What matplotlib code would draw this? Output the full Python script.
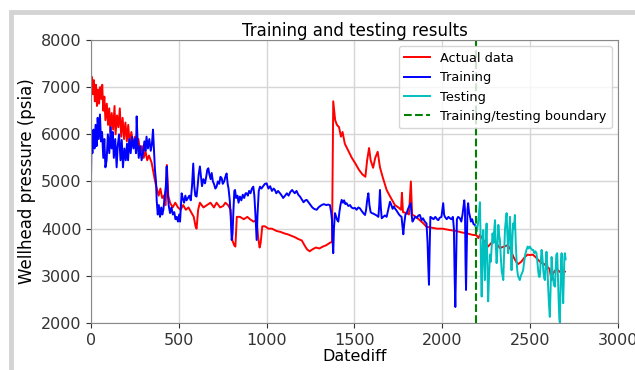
import matplotlib
matplotlib.use("Agg")
import matplotlib.pyplot as plt
from matplotlib.patches import Rectangle

# Actual wellhead pressure
actual_days = [0, 4, 10, 16, 22, 28, 34, 40, 46, 52, 58, 64, 70, 76, 82, 90, 97, 104, 110, 118,
               126, 134, 140, 148, 156, 164, 172, 180, 188, 196, 204, 212, 220, 230, 240, 250, 260,
               270, 280, 290, 300, 310, 320, 330, 345, 355, 365, 375, 385, 395, 405, 415, 425, 432,
               440, 450, 465, 480, 495, 510, 525, 540, 555, 570, 585, 595, 601, 610, 620, 640, 660,
               680, 700, 715, 735, 752, 765, 780, 795, 805, 815, 822, 830, 848, 870, 890, 905, 925,
               943, 952, 960, 966, 975, 990, 1010, 1030, 1057, 1080, 1100, 1120, 1140, 1160, 1180,
               1200, 1215, 1230, 1245, 1260, 1280, 1300, 1320, 1340, 1360, 1372, 1379, 1390, 1400,
               1412, 1423, 1432, 1445, 1465, 1485, 1505, 1525, 1545, 1562, 1572, 1583, 1592, 1606,
               1618, 1632, 1645, 1660, 1683, 1700, 1715, 1730, 1750, 1765, 1770, 1776, 1797, 1810,
               1821, 1828, 1850, 1872, 1890, 1910, 1940, 1970, 2000, 2043, 2080, 2110, 2140, 2170,
               2195, 2205, 2214, 2235, 2260, 2280, 2300, 2315, 2328, 2350, 2373, 2390, 2405, 2420,
               2432, 2450, 2470, 2485, 2498, 2515, 2536, 2550, 2565, 2580, 2595, 2610, 2622, 2630,
               2650, 2670, 2685, 2698]
actual_psia = [6900, 7220, 6850, 7150, 6700, 7050, 6600, 6950, 6650, 7000, 6750, 7050, 6500, 6800,
               6300, 6650, 6200, 6550, 6050, 6450, 6100, 6600, 6000, 6400, 6150, 6550, 5950, 6350,
               5900, 6250, 5850, 6200, 5800, 6050, 5750, 5950, 5650, 5900, 5600, 5750, 5500, 5650,
               5450, 5550, 5400, 5200, 5000, 4850, 4700, 4850, 4650, 4700, 4500, 5350, 4700, 4550,
               4450, 4550, 4450, 4400, 4500, 4400, 4450, 4350, 4250, 4050, 4000, 4400, 4550, 4450,
               4500, 4550, 4450, 4550, 4450, 4480, 4550, 4500, 4400, 3750, 3650, 3620, 4250, 4250,
               4200, 4250, 4200, 4150, 4180, 3800, 3600, 3700, 4050, 4050, 4000, 4000, 3950, 3930,
               3900, 3880, 3850, 3820, 3780, 3750, 3650, 3560, 3520, 3560, 3600, 3580, 3620, 3650,
               3700, 3720, 6700, 6300, 6200, 6150, 5950, 6050, 5800, 5650, 5500, 5380, 5250, 5150,
               5100, 5450, 5710, 5450, 5290, 5500, 5630, 5300, 5100, 4820, 4700, 4600, 4500, 4450,
               4400, 4760, 4350, 4330, 4300, 5000, 4300, 4250, 4180, 4120, 4040, 4020, 4000, 4000,
               3970, 3950, 3920, 3900, 3870, 3860, 3800, 3870, 3750, 3620, 3700, 3720, 3650, 3590,
               3620, 3650, 3550, 3400, 3300, 3250, 3300, 3400, 3450, 3440, 3450, 3380, 3320, 3270,
               3250, 3200, 3150, 2910, 3050, 3150, 3080, 3120, 3090]

# Model fit on the training period
train_days = [0, 3, 8, 14, 20, 26, 32, 38, 44, 51, 57, 63, 70, 76, 82, 89, 96, 104, 112, 118,
              124, 130, 138, 146, 152, 160, 168, 175, 182, 190, 198, 205, 211, 218, 226, 234, 242,
              250, 256, 260, 266, 272, 280, 288, 296, 304, 310, 316, 324, 332, 340, 347, 353, 358,
              364, 370, 374, 380, 386, 393, 400, 406, 412, 420, 426, 431, 436, 442, 450, 458, 466,
              474, 481, 488, 495, 502, 507, 512, 516, 522, 530, 537, 544, 552, 560, 568, 575, 582,
              588, 594, 601, 607, 613, 620, 626, 632, 640, 649, 656, 662, 668, 674, 681, 687, 694,
              700, 708, 715, 722, 730, 737, 744, 750, 758, 765, 772, 778, 783, 790, 796, 801, 806,
              811, 816, 820, 826, 834, 840, 848, 856, 864, 872, 880, 886, 893, 900, 908, 916, 924,
              930, 936, 943, 948, 955, 962, 970, 980, 990, 1000, 1010, 1020, 1030, 1040, 1047,
              1055, 1065, 1076, 1086, 1094, 1105, 1115, 1125, 1135, 1145, 1151, 1160, 1170, 1180,
              1190, 1200, 1210, 1220, 1228, 1240, 1250, 1260, 1270, 1285, 1295, 1305, 1313, 1325,
              1340, 1350, 1360, 1367, 1372, 1376, 1379, 1383, 1389, 1396, 1402, 1408, 1414, 1420,
              1427, 1435, 1441, 1448, 1455, 1465, 1475, 1483, 1493, 1503, 1512, 1522, 1531, 1540,
              1550, 1560, 1566, 1572, 1579, 1585, 1592, 1598, 1607, 1617, 1626, 1636, 1641, 1645,
              1650, 1655, 1664, 1673, 1683, 1692, 1702, 1710, 1717, 1724, 1730, 1740, 1750, 1758,
              1768, 1773, 1778, 1783, 1790, 1797, 1805, 1815, 1820, 1825, 1830, 1835, 1845, 1855,
              1864, 1872, 1882, 1890, 1900, 1910, 1916, 1920, 1924, 1928, 1932, 1940, 1950, 1960,
              1970, 1977, 1985, 1995, 2000, 2005, 2010, 2015, 2025, 2035, 2043, 2052, 2060, 2066,
              2070, 2074, 2078, 2083, 2090, 2100, 2108, 2115, 2120, 2125, 2129, 2132, 2135, 2139,
              2143, 2147, 2152, 2158, 2163, 2170, 2177, 2185, 2190]
train_psia = [5050, 5900, 5600, 6100, 5700, 6200, 5750, 6350, 5900, 6420, 5850, 6050, 5500, 5900,
              5300, 5450, 6000, 5600, 6150, 5700, 6050, 5500, 5900, 5300, 5750, 6000, 5450, 5880,
              5300, 5700, 5450, 5800, 5450, 5900, 5600, 5950, 5700, 5900, 5600, 6380, 5800, 5500,
              5750, 5450, 5600, 5850, 5650, 5950, 5700, 5900, 5650, 5800, 6100, 5700, 5250, 5000,
              4600, 4300, 4500, 4250, 4450, 4300, 4400, 4700, 4900, 5320, 4800, 4500, 4330, 4450,
              4300, 4350, 4200, 4250, 4150, 4300, 4150, 4500, 4750, 4650, 4550, 4700, 4600, 4650,
              4700, 4600, 4900, 5380, 4900, 4700, 4680, 4900, 5150, 5320, 5100, 4900, 5050, 4960,
              5100, 5250, 5280, 5150, 5050, 5180, 5000, 4950, 4850, 4890, 5000, 4950, 5100, 5070,
              4950, 5000, 5100, 5170, 4950, 4850, 4600, 4200, 3760, 3900, 4400, 4800, 4820, 4650,
              4700, 4550, 4680, 4600, 4720, 4650, 4750, 4750, 4700, 4800, 4750, 4850, 4890, 4700,
              4300, 3760, 4300, 4800, 4890, 4850, 4900, 4950, 4960, 4850, 4900, 4800, 4850, 4820,
              4750, 4800, 4750, 4700, 4650, 4700, 4750, 4700, 4780, 4820, 4790, 4750, 4800, 4720,
              4680, 4620, 4560, 4600, 4610, 4550, 4500, 4450, 4420, 4400, 4450, 4480, 4500, 4520,
              4500, 4510, 4500, 4350, 4180, 3700, 3480, 4000, 4330, 4250, 4180, 4150, 4350, 4500,
              4610, 4550, 4600, 4520, 4540, 4480, 4500, 4450, 4430, 4440, 4400, 4450, 4430, 4380,
              4330, 4290, 4400, 4600, 4750, 4500, 4350, 4330, 4320, 4300, 4280, 4250, 4500, 4820,
              4450, 4220, 4250, 4280, 4250, 4400, 4570, 4500, 4420, 4470, 4430, 4380, 4320, 4280,
              4250, 4050, 3880, 4100, 4300, 4330, 4420, 4500, 4540, 4300, 4150, 4180, 4250, 4230,
              4280, 4290, 4180, 4220, 4150, 4110, 3700, 3200, 2810, 3600, 4250, 4230, 4200, 4250,
              4200, 4180, 4230, 4250, 4400, 4540, 4300, 4250, 4200, 4250, 4220, 4200, 4250, 4000,
              3000, 2340, 3200, 4200, 4250, 4220, 4150, 4300, 4450, 4600, 4400, 3300, 2700, 3600,
              4400, 4540, 4350, 4250, 4150, 4200, 4100, 4080, 4050]

# Model prediction on the testing period
test_days = [2190, 2197, 2203, 2208, 2214, 2218, 2221, 2224, 2228, 2233, 2237, 2242, 2246, 2252,
             2256, 2261, 2266, 2271, 2276, 2281, 2286, 2291, 2296, 2300, 2304, 2309, 2314, 2319,
             2324, 2328, 2333, 2338, 2343, 2347, 2352, 2357, 2362, 2366, 2370, 2375, 2380, 2385,
             2390, 2394, 2398, 2403, 2408, 2413, 2418, 2423, 2427, 2432, 2437, 2441, 2447, 2453,
             2460, 2466, 2472, 2479, 2486, 2492, 2498, 2505, 2511, 2517, 2524, 2530, 2536, 2541,
             2546, 2550, 2555, 2560, 2565, 2570, 2575, 2580, 2584, 2588, 2593, 2598, 2602, 2607,
             2612, 2617, 2622, 2627, 2632, 2636, 2641, 2645, 2649, 2654, 2658, 2662, 2666, 2669,
             2673, 2676, 2679, 2683, 2688, 2692, 2695, 2698, 2702]
test_psia = [4050, 3950, 4100, 4300, 4560, 3800, 3000, 2560, 3300, 3970, 3500, 2910, 3600, 4110,
             3300, 2460, 3000, 3450, 3300, 3620, 3900, 3700, 4000, 4180, 3700, 3270, 3600, 4080,
             3850, 3760, 3400, 3100, 3000, 2910, 3500, 4000, 4200, 4330, 3900, 3480, 3900, 4250,
             3700, 3120, 3700, 4110, 4000, 4290, 3700, 3300, 3100, 2980, 2950, 2910, 3000, 3050,
             3120, 3300, 3450, 3550, 3620, 3580, 3620, 3580, 3550, 3550, 3480, 3520, 3480, 3300,
             3100, 2980, 2980, 3300, 3550, 3400, 3100, 2950, 2910, 3200, 3510, 3200, 2800, 2400,
             2130, 2800, 3400, 3100, 2900, 2800, 2770, 3100, 3450, 3480, 3000, 2500, 2100, 2010,
             2700, 3300, 3480, 3000, 2420, 3000, 3400, 3480, 3350]

split_day = 2190

fig = plt.figure(figsize=(6.35, 3.7), dpi=100)
ax = fig.add_axes([0.1433, 0.127, 0.8299, 0.765])

ax.plot(actual_days, actual_psia, color="red", lw=1.4, label="Actual data")
ax.plot(train_days, train_psia, color="blue", lw=1.4, label="Training")
ax.plot(test_days, test_psia, color="c", lw=1.4, label="Testing")
ax.axvline(split_day, color="green", ls="--", lw=1.5, label="Training/testing boundary")

ax.set_xlim(0, 3000)
ax.set_ylim(2000, 8000)
ax.set_title("Training and testing results", fontsize=12, pad=3)
ax.set_xlabel("Datediff", fontsize=11.5, labelpad=1)
ax.set_ylabel("Wellhead pressure (psia)", fontsize=12, labelpad=3)
ax.tick_params(labelsize=11.5, colors="#333333")
ax.grid(True, color="#d6d6d6", lw=1)
for s in ax.spines.values():
    s.set_color("#888888")
ax.legend(loc="upper right", fontsize=9.3, framealpha=0.8)

# grey frame along the top and left edges
fig.add_artist(Rectangle((11 / 635, -0.2), 1.2, 1.2 - 12 / 370, transform=fig.transFigure,
                         fill=False, edgecolor="#d4d4d4", lw=3.5))

fig.savefig("out.png", dpi=100)
